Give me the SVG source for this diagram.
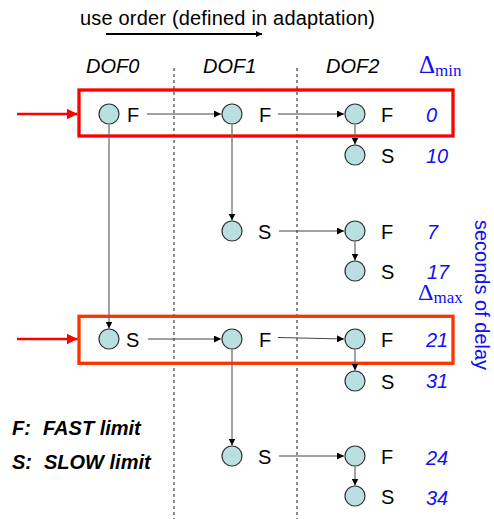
<svg xmlns="http://www.w3.org/2000/svg" width="494" height="519" viewBox="0 0 494 519">
<defs>
<style>
.t{font-family:"Liberation Sans",Arial,sans-serif;font-size:20px;fill:#000}
.it{font-style:italic}
.num{font-family:"Liberation Sans",Arial,sans-serif;font-size:20px;font-style:italic;fill:#1010f0}
.dl{font-family:"Liberation Serif","Times New Roman",serif;fill:#1010f0}
.node{fill:#b9dfe0;stroke:#333;stroke-width:1.2}
.conn{stroke:#444;stroke-width:1;fill:none}
.vconn{stroke:#666;stroke-width:1.2;fill:none}
.dash{stroke:#666;stroke-width:1.5;stroke-dasharray:3,3}
</style>
<marker id="ah" viewBox="0 0 10 10" refX="10" refY="5" markerWidth="7" markerHeight="7" markerUnits="userSpaceOnUse" orient="auto">
<path d="M0,0 L10,5 L0,10 Z" fill="#000"/>
</marker>
<marker id="ahb" viewBox="0 0 10 10" refX="10" refY="5" markerWidth="6" markerHeight="6" markerUnits="userSpaceOnUse" orient="auto">
<path d="M0,0 L10,5 L0,10 Z" fill="#000"/>
</marker>
<marker id="ahr" viewBox="0 0 10 10" refX="10" refY="5" markerWidth="11" markerHeight="11" markerUnits="userSpaceOnUse" orient="auto">
<path d="M0,0 L10,5 L0,10 Z" fill="#ff0000"/>
</marker>
</defs>
<rect width="494" height="519" fill="#fff"/>

<g id="header">
<text class="t" x="80" y="25" textLength="295">use order (defined in adaptation)</text>
<line x1="106" y1="34" x2="262" y2="34" stroke="#000" stroke-width="2" marker-end="url(#ahb)"/>
<text class="t it" x="86" y="73">DOF0</text>
<text class="t it" x="203" y="73">DOF1</text>
<text class="t it" x="326" y="73">DOF2</text>
<text class="dl" x="419" y="73" font-size="25">Δ<tspan font-size="17" dy="3">min</tspan></text>
<text class="dl" x="418" y="300" font-size="24">Δ<tspan font-size="17" dy="3">max</tspan></text>
<text class="t" transform="translate(475,220) rotate(90)" x="0" y="0" style="fill:#1010f0">seconds of delay</text>
</g>

<g id="columns">
<line class="dash" x1="174" y1="68" x2="174" y2="519"/>
<line class="dash" x1="297" y1="68" x2="297" y2="519"/>
</g>

<g id="boxes">
<rect x="79" y="90" width="374" height="46" fill="none" stroke="#ff0000" stroke-width="3.3"/>
<rect x="79" y="316.3" width="374" height="47" fill="none" stroke="#ff3300" stroke-width="3.3"/>
<line x1="17" y1="114" x2="77.5" y2="114" stroke="#ff0000" stroke-width="2.3" marker-end="url(#ahr)"/>
<line x1="17" y1="339" x2="77.5" y2="339" stroke="#ff0000" stroke-width="2.3" marker-end="url(#ahr)"/>
</g>

<g id="connectors">
<line class="conn" x1="147" y1="114" x2="221" y2="114" marker-end="url(#ah)"/>
<line class="conn" x1="278" y1="114" x2="344" y2="114" marker-end="url(#ah)"/>
<line class="conn" x1="279" y1="231" x2="344" y2="231" marker-end="url(#ah)"/>
<line class="conn" x1="148" y1="339" x2="221" y2="339" marker-end="url(#ah)"/>
<line class="conn" x1="278" y1="337.5" x2="344" y2="339" marker-end="url(#ah)"/>
<line class="conn" x1="279" y1="456" x2="344" y2="456" marker-end="url(#ah)"/>
<line class="vconn" x1="109" y1="125" x2="109" y2="328.5" marker-end="url(#ah)"/>
<line class="vconn" x1="232" y1="125" x2="232" y2="220.5" marker-end="url(#ah)"/>
<line class="vconn" x1="355" y1="125" x2="355" y2="144.5" marker-end="url(#ah)"/>
<line class="vconn" x1="355" y1="241.5" x2="355" y2="260.5" marker-end="url(#ah)"/>
<line class="vconn" x1="232" y1="349.5" x2="232" y2="445.5" marker-end="url(#ah)"/>
<line class="vconn" x1="355" y1="349.5" x2="355" y2="370.5" marker-end="url(#ah)"/>
<line class="vconn" x1="355" y1="466.5" x2="355" y2="485.5" marker-end="url(#ah)"/>
</g>

<g id="n_a0"><circle class="node" cx="109" cy="114" r="10"/><text class="t" x="127" y="121.5">F</text></g>
<g id="n_a1"><circle class="node" cx="232" cy="114" r="10"/><text class="t" x="259" y="121.5">F</text></g>
<g id="n_a2"><circle class="node" cx="355" cy="114" r="10"/><text class="t" x="381" y="121.5">F</text></g>
<g id="n_a2s"><circle class="node" cx="355" cy="155" r="10"/><text class="t" x="381" y="162.5">S</text></g>
<g id="n_b1"><circle class="node" cx="232" cy="231" r="10"/><text class="t" x="258" y="238.5">S</text></g>
<g id="n_b2"><circle class="node" cx="355" cy="231" r="10"/><text class="t" x="381" y="238.5">F</text></g>
<g id="n_b2s"><circle class="node" cx="355" cy="271" r="10"/><text class="t" x="381" y="278.5">S</text></g>
<g id="n_c0"><circle class="node" cx="109" cy="339" r="10"/><text class="t" x="126" y="346.5">S</text></g>
<g id="n_c1"><circle class="node" cx="232" cy="339" r="10"/><text class="t" x="259" y="346.5">F</text></g>
<g id="n_c2"><circle class="node" cx="355" cy="339" r="10"/><text class="t" x="381" y="346.5">F</text></g>
<g id="n_c2s"><circle class="node" cx="355" cy="381" r="10"/><text class="t" x="381" y="388.5">S</text></g>
<g id="n_d1"><circle class="node" cx="232" cy="456" r="10"/><text class="t" x="258" y="463.5">S</text></g>
<g id="n_d2"><circle class="node" cx="355" cy="456" r="10"/><text class="t" x="381" y="463.5">F</text></g>
<g id="n_d2s"><circle class="node" cx="355" cy="496" r="10"/><text class="t" x="381" y="503.5">S</text></g>

<g id="delays">
<text class="num" x="426" y="121.5">0</text>
<text class="num" x="426" y="163">10</text>
<text class="num" x="427" y="239">7</text>
<text class="num" x="427" y="279">17</text>
<text class="num" x="426" y="347">21</text>
<text class="num" x="426" y="388">31</text>
<text class="num" x="426" y="465">24</text>
<text class="num" x="426" y="505">34</text>
</g>

<g id="legend">
<text class="t it" font-weight="bold" x="12" y="435">F:<tspan x="43">FAST limit</tspan></text>
<text class="t it" font-weight="bold" x="12" y="469">S:<tspan x="44">SLOW limit</tspan></text>
</g>
</svg>
